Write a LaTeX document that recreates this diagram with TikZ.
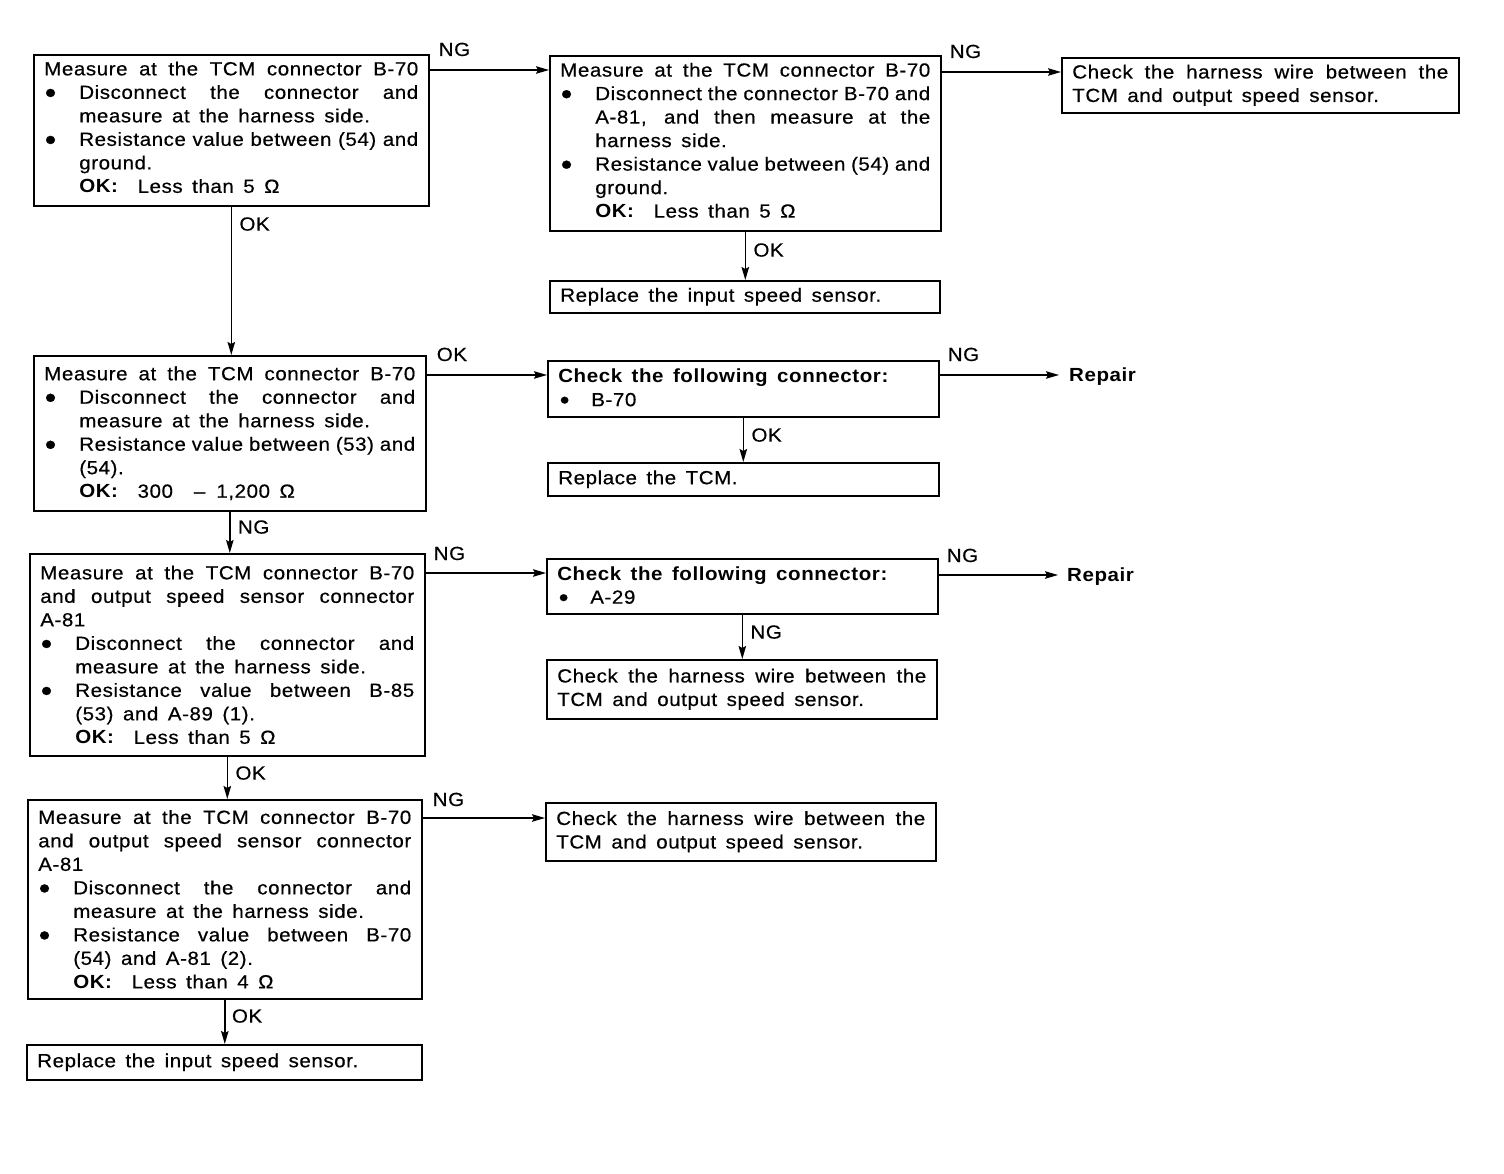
\documentclass[tikz,border=0pt]{standalone}
\usepackage{fontspec}
\setmainfont{Liberation Sans}[LetterSpace=3,FakeStretch=1.08,UprightFeatures={FakeBold=0.5}]
\usetikzlibrary{arrows.meta,calc}
\newcommand{\bodyfont}{\fontsize{19}{23.5}\selectfont}
\newcommand{\wsp}{\spaceskip=9.5pt plus 2pt minus 2pt\relax\xspaceskip=\spaceskip}
\newdimen\Wd
\newcommand{\setW}[1]{\Wd=#1\relax\wsp}
\newcommand{\jb}[2]{\leavevmode\hbox to #1{\spaceskip=4pt plus 1fil\relax\xspaceskip=\spaceskip #2}}
\newcommand{\fl}[1]{\jb{\Wd}{#1}}
\newcommand{\bul}{\makebox[35pt][l]{\hspace{0.5pt}\raisebox{-4.2pt}{\scalebox{1.6}{\textbullet}}}}
\newcommand{\sbul}{\makebox[33pt][l]{\hspace{1.5pt}\raisebox{-2.5pt}{\scalebox{1.35}{\textbullet}}}}
\newcommand{\bj}[1]{\bul\jb{\dimexpr\Wd-35pt\relax}{#1}}
\newcommand{\ind}[1]{\hspace*{35pt}#1}
\newcommand{\injust}[1]{\hspace*{35pt}\jb{\dimexpr\Wd-35pt\relax}{#1}}
\newcommand{\okl}[1]{\ind{\textbf{OK:}\hspace{19pt}#1}}
\newcommand{\padbot}{\par\nointerlineskip\hbox{\rule{0pt}{6pt}}}
\begin{document}
\begin{tikzpicture}[x=1pt,y=-1pt,
  box/.style={draw,line width=1.6pt,anchor=north west,inner xsep=10.5pt,inner ysep=0pt,align=left,font=\bodyfont},
  arr/.style={-{Stealth[length=13pt,width=7.5pt,inset=2pt]},line width=1.4pt},
  lab/.style={font=\bodyfont,inner sep=0pt}
]
\useasboundingbox (0,0) rectangle (1504,1174);

% ---- boxes ----
\node[box,text width=374pt,minimum height=151pt] (a1) at (33,54) {\setW{374pt}%
\fl{Measure at the TCM connector B-70}\\
\bj{Disconnect the connector and}\\
\ind{measure at the harness side.}\\
\bj{Resistance value between (54) and}\\
\ind{ground.}\\
\okl{Less than 5 Ω}\padbot};

\node[box,text width=370pt,minimum height=175pt] (a2) at (549,55) {\setW{370pt}%
\fl{Measure at the TCM connector B-70}\\
\bj{Disconnect the connector B-70 and}\\
\injust{A-81, and then measure at the}\\
\ind{harness side.}\\
\bj{Resistance value between (54) and}\\
\ind{ground.}\\
\okl{Less than 5 Ω}\padbot};

\node[box,text width=376pt,minimum height=55pt] (a3) at (1061,57) {\setW{376pt}%
\fl{Check the harness wire between the}\\
TCM and output speed sensor.};

\node[box,text width=369pt,minimum height=32pt] (b1) at (549,280) {\wsp Replace the input speed sensor.};

\node[box,text width=371pt,minimum height=155pt] (c1) at (33,355) {\setW{371pt}%
\fl{Measure at the TCM connector B-70}\\
\bj{Disconnect the connector and}\\
\ind{measure at the harness side.}\\
\bj{Resistance value between (53) and}\\
\ind{(54).}\\
\okl{300\hspace{21pt}–\hspace{11pt}1,200 Ω}};

\node[box,text width=370pt,minimum height=56pt] (c2) at (547,360) {\wsp
\textbf{Check the following connector:}\\
\sbul B-70};

\node[box,text width=370pt,minimum height=33pt] (c3) at (547,462) {\wsp Replace the TCM.};

\node[box,text width=374pt,minimum height=202pt] (d1) at (29,553) {\setW{374pt}%
\fl{Measure at the TCM connector B-70}\\
\fl{and output speed sensor connector}\\
A-81\\
\bj{Disconnect the connector and}\\
\ind{measure at the harness side.}\\
\bj{Resistance value between B-85}\\
\ind{(53) and A-89 (1).}\\
\okl{Less than 5 Ω}};

\node[box,text width=370pt,minimum height=55pt] (d2) at (546,558) {\wsp
\textbf{Check the following connector:}\\
\sbul A-29};

\node[box,text width=369pt,minimum height=59pt] (d3) at (546,659) {\setW{369pt}%
\fl{Check the harness wire between the}\\
TCM and output speed sensor.};

\node[box,text width=373pt,minimum height=199pt] (e1) at (27,799) {\setW{373pt}%
\fl{Measure at the TCM connector B-70}\\
\fl{and output speed sensor connector}\\
A-81\\
\bj{Disconnect the connector and}\\
\ind{measure at the harness side.}\\
\bj{Resistance value between B-70}\\
\ind{(54) and A-81 (2).}\\
\okl{Less than 4 Ω}};

\node[box,text width=369pt,minimum height=58pt] (e2) at (545,802) {\setW{369pt}%
\fl{Check the harness wire between the}\\
TCM and output speed sensor.};

\node[box,text width=374pt,minimum height=35pt] (f1) at (26,1044) {\wsp Replace the input speed sensor.};

\node[lab,font=\bodyfont\bfseries,anchor=west] (r1) at (1069,377) {Repair};
\node[lab,font=\bodyfont\bfseries,anchor=west] (r2) at (1067,577) {Repair};

% ---- horizontal connectors ----
\coordinate (h1) at ($(a1.north east)+(0,16)$);
\draw[arr] (h1) -- (h1 -| a2.west);
\node[lab,anchor=base west] (lh1) at ($(h1)+(9,-14)$) {NG};

\coordinate (h2) at ($(a2.north east)+(0,17)$);
\draw[arr] (h2) -- (h2 -| a3.west);
\node[lab,anchor=base west] (lh2) at ($(h2)+(8,-14)$) {NG};

\coordinate (h3) at ($(c1.north east)+(0,20)$);
\draw[arr] (h3) -- (h3 -| c2.west);
\node[lab,anchor=base west] (lh3) at ($(h3)+(10,-14)$) {OK};

\coordinate (h4) at ($(c2.north east)+(0,15)$);
\draw[arr,shorten >=10pt] (h4) -- (h4 -| r1.west);
\node[lab,anchor=base west] (lh4) at ($(h4)+(8,-14)$) {NG};

\coordinate (h5) at ($(d1.north east)+(0,20)$);
\draw[arr] (h5) -- (h5 -| d2.west);
\node[lab,anchor=base west] (lh5) at ($(h5)+(8,-13)$) {NG};

\coordinate (h6) at ($(d2.north east)+(0,17)$);
\draw[arr,shorten >=9pt] (h6) -- (h6 -| r2.west);
\node[lab,anchor=base west] (lh6) at ($(h6)+(8,-13)$) {NG};

\coordinate (h7) at ($(e1.north east)+(0,19)$);
\draw[arr] (h7) -- (h7 -| e2.west);
\node[lab,anchor=base west] (lh7) at ($(h7)+(10,-12)$) {NG};

% ---- vertical connectors ----
\draw[arr] (a1.south) -- (a1.south |- c1.north);
\node[lab,anchor=base west] (lv1) at ($(a1.south)+(8,24)$) {OK};

\draw[arr] (a2.south) -- (a2.south |- b1.north);
\node[lab,anchor=base west] (lv2) at ($(a2.south)+(8,25)$) {OK};

\draw[arr] (c2.south) -- (c2.south |- c3.north);
\node[lab,anchor=base west] (lv3) at ($(c2.south)+(8,24)$) {OK};

\draw[arr] (c1.south) -- (c1.south |- d1.north);
\node[lab,anchor=base west] (lv4) at ($(c1.south)+(8,22)$) {NG};

\draw[arr] (d2.south) -- (d2.south |- d3.north);
\node[lab,anchor=base west] (lv5) at ($(d2.south)+(8,24)$) {NG};

\draw[arr] (d1.south) -- (d1.south |- e1.north);
\node[lab,anchor=base west] (lv6) at ($(d1.south)+(8,23)$) {OK};

\draw[arr] (e1.south) -- (e1.south |- f1.north);
\node[lab,anchor=base west] (lv7) at ($(e1.south)+(7,23)$) {OK};
\end{tikzpicture}
\end{document}
